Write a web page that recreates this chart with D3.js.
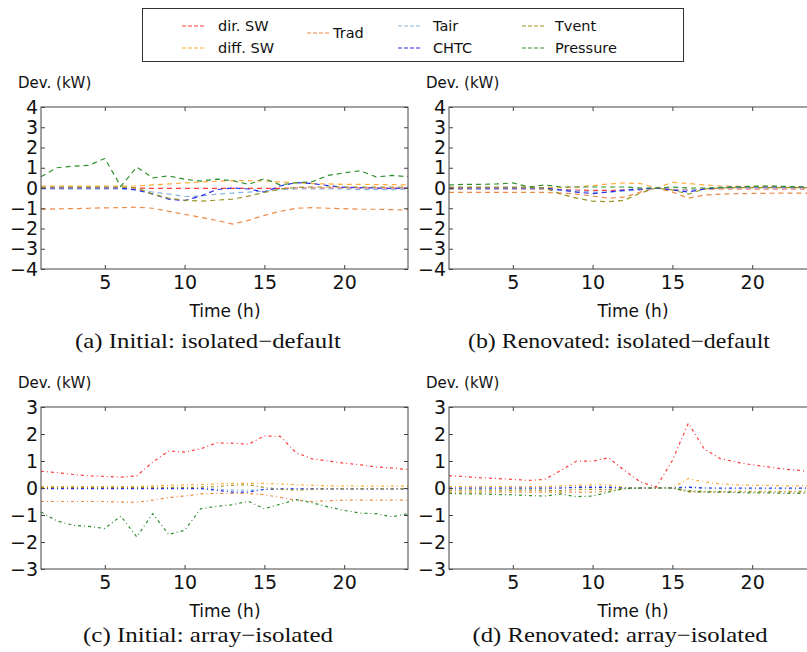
<!DOCTYPE html>
<html>
<head>
<meta charset="utf-8">
<script src="https://cdn.jsdelivr.net/npm/d3@7"></script>
<style>
  html, body { margin: 0; padding: 0; background: #fff; }
  svg { display: block; }
</style>
</head>
<body>
<svg id="chart" width="807" height="652"></svg>
<script>
// ---------------- data ----------------
const hours = [1,2,3,4,5,6,7,8,9,10,11,12,13,14,15,16,17,18,19,20,21,22,23,24];
const seriesNames = ["dir. SW","diff. SW","Trad","Tair","CHTC","Tvent","Pressure"];
const seriesColors = ["#ff3b3b","#ffad3a","#ee8a45","#85b6de","#2a2af0","#9a9424","#2f8f2f"];

const yTicksTop = [-4,-3,-2,-1,0,1,2,3,4];
const yTicksBottom = [-3,-2,-1,0,1,2,3];
const xTicks = [5,10,15,20];

// (a) Initial: isolated-default
const aDirSW   = [0,0,0,0,0,0,0,-0.02,-0.02,-0.02,-0.02,-0.02,-0.02,-0.02,-0.02,-0.02,0,0,0,0,0,0,0,0];
const aDiffSW  = [0.1,0.1,0.1,0.1,0.1,0.1,0.1,0.15,0.2,0.25,0.3,0.33,0.36,0.36,0.35,0.3,0.25,0.22,0.2,0.18,0.18,0.17,0.17,0.15];
const aTrad    = [-1.05,-1.03,-1.02,-1.0,-0.98,-0.97,-0.95,-1.0,-1.15,-1.3,-1.45,-1.6,-1.78,-1.6,-1.35,-1.15,-1.0,-0.97,-1.0,-1.02,-1.05,-1.05,-1.07,-1.08];
const aTair    = [-0.05,-0.05,-0.05,-0.05,-0.05,-0.05,-0.08,-0.2,-0.3,-0.42,-0.4,-0.3,-0.25,-0.2,-0.15,-0.08,-0.05,-0.05,-0.05,-0.05,-0.07,-0.07,-0.08,-0.05];
const aCHTC    = [0,0,0,0,0,0,-0.1,-0.3,-0.55,-0.62,-0.4,-0.08,0,-0.05,-0.2,0.1,0.27,0.22,0.12,0.03,0.02,0,-0.02,0];
const aTvent   = [0.05,0.05,0.05,0.05,0.05,0.05,0.0,-0.3,-0.5,-0.6,-0.65,-0.6,-0.55,-0.4,-0.22,-0.05,0.03,0.05,0.05,0.05,0.05,0.05,0.05,0.05];
const aPressure= [0.56,1.0,1.08,1.12,1.46,0.08,1.03,0.5,0.6,0.43,0.34,0.44,0.36,0.18,0.46,0.15,0.26,0.31,0.62,0.75,0.85,0.55,0.62,0.56];

// (b) Renovated: isolated-default
const bDirSW   = [-0.05,-0.05,-0.05,-0.05,-0.05,-0.05,-0.05,-0.08,-0.1,-0.12,-0.12,-0.1,-0.08,0,-0.08,-0.1,-0.05,-0.05,-0.05,-0.05,-0.05,-0.05,-0.05,-0.05];
const bDiffSW  = [0.02,0.02,0.02,0.02,0.02,0.02,0.02,0.02,0.05,0.12,0.2,0.25,0.22,0.0,0.28,0.22,0.15,0.1,0.08,0.08,0.08,0.06,0.06,0.05];
const bTrad    = [-0.22,-0.22,-0.22,-0.22,-0.22,-0.22,-0.22,-0.25,-0.3,-0.4,-0.5,-0.45,-0.2,0,-0.2,-0.5,-0.35,-0.3,-0.28,-0.27,-0.26,-0.25,-0.25,-0.25];
const bTair    = [-0.05,-0.05,-0.05,-0.05,-0.05,-0.05,-0.05,-0.1,-0.15,-0.2,-0.2,-0.15,-0.1,0,-0.1,-0.1,-0.05,0,0,0,0,0,0,0];
const bCHTC    = [0,0,0,0,0,0,0,-0.1,-0.2,-0.28,-0.2,-0.1,-0.05,0,-0.1,-0.2,-0.05,0.03,0.05,0.05,0.05,0.05,0.05,0.05];
const bTvent   = [0.05,0.05,0.05,0.05,0.05,0.05,0.0,-0.3,-0.5,-0.65,-0.68,-0.6,-0.25,0,-0.1,-0.3,-0.05,0,0.02,0.02,0.02,0.02,0.02,0.02];
const bPressure= [0.15,0.18,0.18,0.2,0.25,0.05,0.15,0.05,0.05,0.05,0.05,0.05,0.0,0.0,0.05,0.0,0.0,0.02,0.05,0.08,0.1,0.08,0.05,0.05];

// (c) Initial: array-isolated
const cDirSW   = [0.62,0.57,0.5,0.45,0.43,0.4,0.45,0.96,1.37,1.33,1.45,1.67,1.66,1.62,1.93,1.91,1.3,1.08,1.0,0.92,0.86,0.78,0.74,0.68];
const cDiffSW  = [0.05,0.05,0.05,0.05,0.05,0.05,0.05,0.08,0.1,0.12,0.13,0.15,0.17,0.17,0.17,0.15,0.12,0.1,0.08,0.08,0.07,0.07,0.07,0.07];
const cTrad    = [-0.5,-0.5,-0.5,-0.5,-0.5,-0.52,-0.53,-0.45,-0.35,-0.3,-0.22,-0.2,-0.2,-0.2,-0.25,-0.35,-0.45,-0.5,-0.47,-0.45,-0.45,-0.45,-0.45,-0.45];
const cTair    = [0,0,0,0,0,0,0,0,0,0,0,-0.05,-0.08,-0.08,-0.05,-0.05,-0.03,-0.03,-0.03,-0.03,-0.03,-0.03,-0.03,-0.03];
const cCHTC    = [-0.02,-0.02,-0.02,-0.02,-0.02,-0.02,-0.02,-0.02,-0.02,-0.02,-0.02,-0.08,-0.15,-0.15,-0.05,-0.03,-0.03,-0.03,-0.03,-0.03,-0.03,-0.03,-0.03,-0.03];
const cTvent   = [0.02,0.02,0.02,0.02,0.02,0.02,0.02,0.02,0.02,0.02,0.03,0.05,0.1,0.12,0.02,-0.05,-0.08,-0.05,-0.03,-0.02,-0.02,-0.02,-0.02,-0.02];
const cPressure= [-0.89,-1.22,-1.38,-1.42,-1.5,-1.04,-1.81,-0.95,-1.72,-1.57,-0.77,-0.68,-0.62,-0.49,-0.77,-0.6,-0.43,-0.55,-0.7,-0.83,-0.93,-0.95,-1.07,-0.95];

// (d) Renovated: array-isolated
const dDirSW   = [0.46,0.42,0.38,0.35,0.32,0.28,0.32,0.65,1.0,0.99,1.12,0.65,0.22,0.04,1.02,2.4,1.44,1.09,0.96,0.86,0.78,0.7,0.65,0.58];
const dDiffSW  = [0.05,0.05,0.05,0.05,0.05,0.05,0.05,0.08,0.1,0.12,0.12,0.02,0,0,0.02,0.35,0.22,0.15,0.12,0.1,0.1,0.08,0.08,0.08];
const dTrad    = [-0.15,-0.15,-0.15,-0.15,-0.15,-0.15,-0.15,-0.15,-0.15,-0.15,-0.12,-0.03,0,0,0,-0.15,-0.15,-0.15,-0.15,-0.15,-0.15,-0.15,-0.15,-0.15];
const dTair    = [-0.02,-0.02,-0.02,-0.02,-0.02,-0.02,-0.02,0.0,0.05,0.05,0.05,0,0,0,0,0.05,0,-0.02,-0.02,-0.02,-0.02,-0.02,-0.02,-0.02];
const dCHTC    = [0,0,0,0,0,0,0,0,0.02,0.02,0.02,0,0,0,0,0.02,0,0,0,0,0,0,0,0];
const dTvent   = [-0.08,-0.08,-0.08,-0.08,-0.08,-0.08,-0.08,-0.1,-0.05,-0.05,-0.05,0,0,0,0,-0.1,-0.12,-0.12,-0.12,-0.12,-0.12,-0.12,-0.12,-0.12];
const dPressure= [-0.2,-0.22,-0.22,-0.24,-0.25,-0.28,-0.3,-0.22,-0.32,-0.3,-0.15,-0.02,0,0,0,-0.12,-0.15,-0.15,-0.17,-0.18,-0.18,-0.2,-0.2,-0.2];

const captions = ["(a) Initial: isolated\u2212default","(b) Renovated: isolated\u2212default","(c) Initial: array\u2212isolated","(d) Renovated: array\u2212isolated"];
const yLabel = "Dev. (kW)";
const xLabel = "Time (h)";

// ---------------- drawing ----------------
const svg = d3.select("#chart");
const sans = "DejaVu Sans, sans-serif";
const serif = "Liberation Serif, DejaVu Serif, serif";

const panels = [
  {x0: 41,  y0: 107, series: [aDirSW,aDiffSW,aTrad,aTair,aCHTC,aTvent,aPressure], yDom: [-4,4], yTicks: yTicksTop,    dash: "5,4",     cap: captions[0], capX: 208, capY: 348, capW: 266},
  {x0: 449, y0: 107, series: [bDirSW,bDiffSW,bTrad,bTair,bCHTC,bTvent,bPressure], yDom: [-4,4], yTicks: yTicksTop,    dash: "5,4",     cap: captions[1], capX: 619, capY: 348, capW: 302},
  {x0: 41,  y0: 407, series: [cDirSW,cDiffSW,cTrad,cTair,cCHTC,cTvent,cPressure], yDom: [-3,3], yTicks: yTicksBottom, dash: "3,3,1,3", cap: captions[2], capX: 208, capY: 642, capW: 250},
  {x0: 449, y0: 407, series: [dDirSW,dDiffSW,dTrad,dTair,dCHTC,dTvent,dPressure], yDom: [-3,3], yTicks: yTicksBottom, dash: "3,3,1,3", cap: captions[3], capX: 620, capY: 642, capW: 295}
];
const pw = 367, ph = 162;

panels.forEach(p => {
  const g = svg.append("g").attr("transform", `translate(${p.x0},${p.y0})`);
  const x = d3.scaleLinear().domain([1,24]).range([0,pw]);
  const y = d3.scaleLinear().domain(p.yDom).range([ph,0]);

  const line = d3.line().x((d,i) => x(hours[i])).y(d => y(d));
  p.series.forEach((s,k) => {
    g.append("path").datum(s)
      .attr("d", line)
      .attr("fill","none")
      .attr("stroke", seriesColors[k])
      .attr("stroke-width", 1.2)
      .attr("stroke-dasharray", p.dash);
  });

  const fmt = d3.format("d");
  const xb = g.append("g").attr("transform",`translate(0,${ph})`)
    .call(d3.axisBottom(x).tickValues(xTicks).tickSize(-4).tickPadding(7).tickFormat(fmt));
  const xt = g.append("g")
    .call(d3.axisTop(x).tickValues(xTicks).tickSize(-4).tickFormat(""));
  const yl = g.append("g")
    .call(d3.axisLeft(y).tickValues(p.yTicks).tickSize(-4).tickPadding(3).tickFormat(fmt));
  const yr = g.append("g").attr("transform",`translate(${pw},0)`)
    .call(d3.axisRight(y).tickValues(p.yTicks).tickSize(-4).tickFormat(""));
  [xb,xt,yl,yr].forEach(a => {
    a.select(".domain").remove();
    a.selectAll(".tick line").attr("stroke","#444");
    a.selectAll("text").attr("font-family", sans).attr("font-size", 19).attr("fill","#111");
  });

  g.append("rect").attr("x",0).attr("y",0).attr("width",pw).attr("height",ph)
    .attr("fill","none").attr("stroke","#444").attr("stroke-width",1);

  g.append("text").attr("x",-23).attr("y",-19)
    .attr("font-family",sans).attr("font-size",15).attr("fill","#111")
    .text(yLabel);
  g.append("text").attr("x",184).attr("y",ph+48).attr("text-anchor","middle")
    .attr("font-family",sans).attr("font-size",17).attr("fill","#111")
    .text(xLabel);

  svg.append("text").attr("x",p.capX).attr("y",p.capY).attr("text-anchor","middle")
    .attr("font-family",serif).attr("font-size",21).attr("fill","#111")
    .attr("textLength", p.capW).attr("lengthAdjust","spacingAndGlyphs")
    .text(p.cap);
});

// ---------------- legend ----------------
const lg = svg.append("g");
lg.append("rect").attr("x",142.5).attr("y",8.5).attr("width",541).attr("height",53)
  .attr("fill","#fff").attr("stroke","#333").attr("stroke-width",1);
const legendPos = [
  {lx:182, ty:26}, {lx:182, ty:48}, {lx:307, ty:33},
  {lx:398, ty:26}, {lx:398, ty:48}, {lx:522, ty:26}, {lx:522, ty:48}
];
const legendTextX = [218, 218, 333, 433, 433, 555, 555];
seriesNames.forEach((n,k) => {
  const pos = legendPos[k];
  lg.append("line").attr("x1",pos.lx).attr("x2",pos.lx+22).attr("y1",pos.ty).attr("y2",pos.ty)
    .attr("stroke",seriesColors[k]).attr("stroke-width",1.2).attr("stroke-dasharray","4,2");
  lg.append("text").attr("x",legendTextX[k]).attr("y",pos.ty).attr("dy","0.35em")
    .attr("font-family",sans).attr("font-size",14.5).attr("fill","#111")
    .text(n);
});
</script>
</body>
</html>
